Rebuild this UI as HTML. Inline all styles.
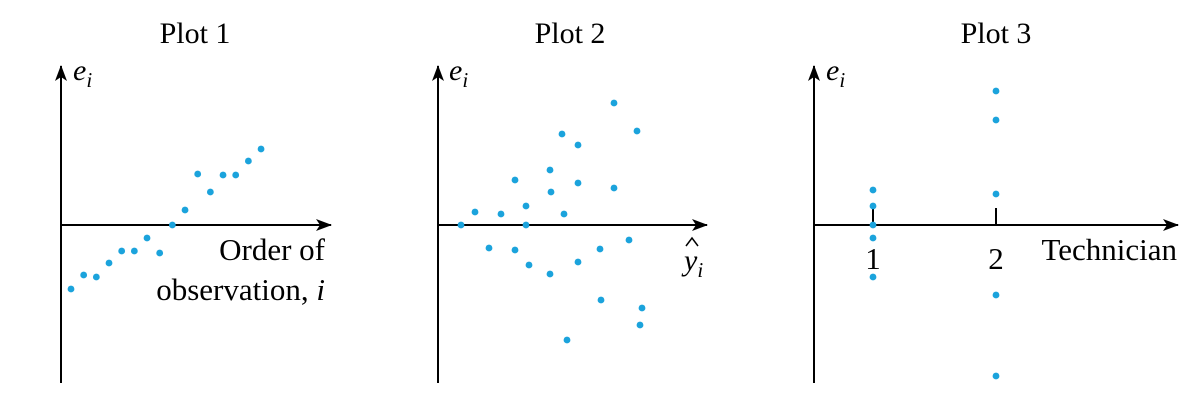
<!DOCTYPE html>
<html><head><meta charset="utf-8"><style>
body{margin:0;background:#fff;}
svg{display:block;font-family:"Liberation Serif",serif;}
</style></head><body>
<svg id="chart" width="1203" height="417" viewBox="0 0 1203 417">
<defs><marker id="arr" viewBox="0 0 16 12" refX="15" refY="6" markerWidth="16" markerHeight="12" markerUnits="userSpaceOnUse" orient="auto"><path d="M0,0 L16,6 L0,12 L4,6 Z" fill="#000"/></marker></defs>
<g id="p1">
<text x="195" y="43" font-size="30" text-anchor="middle">Plot 1</text>
<line x1="61" y1="383" x2="61" y2="66" stroke="#000" stroke-width="2" marker-end="url(#arr)"/>
<line x1="61" y1="225" x2="331" y2="225" stroke="#000" stroke-width="2" marker-end="url(#arr)"/>
<text x="73" y="80" font-size="30" font-style="italic">e<tspan font-size="21" dy="7">i</tspan></text>
<text x="325" y="260" font-size="31" text-anchor="end">Order of</text>
<text x="325" y="300" font-size="31" text-anchor="end">observation, <tspan font-style="italic">i</tspan></text>
</g>
<g id="p2">
<text x="570" y="43" font-size="30" text-anchor="middle">Plot 2</text>
<line x1="438" y1="383" x2="438" y2="66" stroke="#000" stroke-width="2" marker-end="url(#arr)"/>
<line x1="438" y1="225" x2="707" y2="225" stroke="#000" stroke-width="2" marker-end="url(#arr)"/>
<text x="449" y="80" font-size="30" font-style="italic">e<tspan font-size="21" dy="7">i</tspan></text>
<text x="684" y="270" font-size="30" font-style="italic">y<tspan font-size="21" dy="7">i</tspan></text>
<path d="M686,246 L692,238 L698,246" fill="none" stroke="#000" stroke-width="1.5"/>
</g>
<g id="p3">
<text x="996" y="43" font-size="30" text-anchor="middle">Plot 3</text>
<line x1="814" y1="383" x2="814" y2="66" stroke="#000" stroke-width="2" marker-end="url(#arr)"/>
<line x1="814" y1="225" x2="1178" y2="225" stroke="#000" stroke-width="2" marker-end="url(#arr)"/>
<text x="826" y="80" font-size="30" font-style="italic">e<tspan font-size="21" dy="7">i</tspan></text>
<text x="1177" y="260" font-size="31" text-anchor="end">Technician</text>
</g>
</svg>
<script>
const p1Order=[1,2,3,4,5,6,7,8,9,10,11,12,13,14,15,16];
const p1Resid=[-6.4,-5.0,-5.2,-3.8,-2.6,-2.6,-1.3,-2.8,0,1.5,5.1,3.3,5.0,5.0,6.4,7.6];
const p2Fitted=[2.3,3.7,5.1,6.3,7.7,7.7,8.8,8.8,9.1,11.2,11.3,11.2,12.4,12.6,12.9,14.0,14.0,14.0,16.2,16.3,17.6,17.6,19.1,19.9,20.4,20.2];
const p2Resid=[0,1.3,-2.3,1.1,4.5,-2.5,1.9,0,-4.0,5.5,3.3,-4.9,9.1,1.1,-11.5,8.0,4.2,-3.7,-2.4,-7.5,12.2,3.7,-1.5,9.4,-8.3,-10.0];
const p3Tech=[1,1,1,1,1,2,2,2,2,2];
const p3Resid=[3.5,1.9,0,-1.3,-5.2,13.4,10.5,3.1,-7.0,-15.1];
const p3Ticks=["1","2"];
const NS="http://www.w3.org/2000/svg";
const COLOR="#1ba3dc";
function e2y(e){return 225-e*10;}
function x1(i){return 71+(i-1)*12.67;}
function x2(v){return 438+v*10;}
function x3(t){return 873+(t-1)*123;}
function dot(g,cx,cy){
 const c=document.createElementNS(NS,'circle');
 c.setAttribute('cx',cx);c.setAttribute('cy',cy);c.setAttribute('r',3.4);c.setAttribute('fill',COLOR);
 
 
 g.appendChild(c);
}
const g1=document.getElementById('p1'),g2=document.getElementById('p2'),g3=document.getElementById('p3');
p3Ticks.forEach((t,k)=>{
 const x=x3(k+1);
 const l=document.createElementNS(NS,'line');
 l.setAttribute('x1',x);l.setAttribute('x2',x);l.setAttribute('y1',208);l.setAttribute('y2',225);
 l.setAttribute('stroke','#000');l.setAttribute('stroke-width',2);
 
 
 g3.appendChild(l);
 const tx=document.createElementNS(NS,'text');
 tx.setAttribute('x',x);tx.setAttribute('y',269);tx.setAttribute('font-size',31);tx.setAttribute('text-anchor','middle');
 tx.textContent=t;
 
 
 g3.appendChild(tx);
});
p1Order.forEach((o,k)=>dot(g1,x1(o),e2y(p1Resid[k])));
p2Fitted.forEach((f,k)=>dot(g2,x2(f),e2y(p2Resid[k])));
p3Tech.forEach((t,k)=>dot(g3,x3(t),e2y(p3Resid[k])));
</script>
</body></html>
